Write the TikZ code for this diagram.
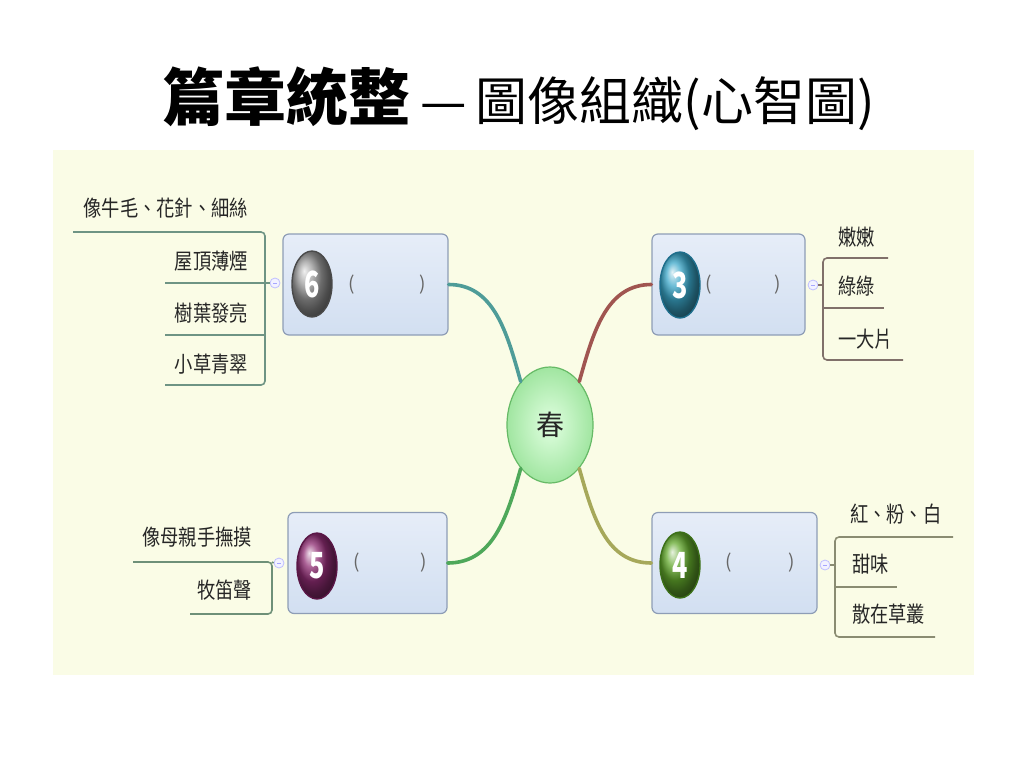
\documentclass[tikz,border=0pt]{standalone}
\usepackage{fontspec}
\setmainfont{Noto Sans CJK TC}
\usetikzlibrary{shapes.geometric}
\definecolor{panel}{HTML}{FAFCE6}
\definecolor{boxtop}{HTML}{E6EDF8}
\definecolor{boxbot}{HTML}{D2DFF1}
\definecolor{boxline}{HTML}{8E9DB6}
\definecolor{lab}{HTML}{262626}
\definecolor{brL}{HTML}{6E9484}
\definecolor{br3}{HTML}{80706A}
\definecolor{br4}{HTML}{8A8C72}
\definecolor{br5}{HTML}{6E9078}
\definecolor{cv6}{HTML}{4E9C98}
\definecolor{cv3}{HTML}{A05550}
\definecolor{cv5}{HTML}{4EA85A}
\definecolor{cv4}{HTML}{A6A85A}
\definecolor{bg6}{HTML}{9A9A9A}
\definecolor{bg3}{HTML}{3AA6C8}
\definecolor{bg5}{HTML}{8E2C72}
\definecolor{bg4}{HTML}{62A82C}
\definecolor{bd6}{HTML}{4A4A4A}
\definecolor{bd3}{HTML}{1E6E8C}
\definecolor{bd5}{HTML}{5A1646}
\definecolor{bd4}{HTML}{3C7018}
\tikzset{
  topicbox/.style={rectangle, rounded corners=6pt, draw=boxline, line width=1.2pt,
    top color=boxtop, bottom color=boxbot, minimum width=#1, minimum height=101pt, inner sep=0pt},
  badge/.style 2 args={ellipse, minimum width=40pt, minimum height=66pt, inner sep=0pt,
    draw=#2, line width=1.4pt, shading=ball, ball color=#1},
  badgenum/.style={text=white, font=\fontsize{36}{36}\selectfont\bfseries, xscale=0.7},
  paren/.style={text=black!60, font=\fontsize{19}{19}\selectfont, inner sep=0pt},
  leaf/.style={text=lab, font=\fontsize{22}{24}\selectfont, xscale=0.83, inner sep=0pt},
  knob/.style={circle, minimum size=10pt, inner sep=0pt, draw=blue!25, fill=blue!5, line width=0.8pt},
  branch/.style={line width=1.6pt, rounded corners=4pt},
  curve/.style={line width=3.6pt, line cap=round},
}
\begin{document}
\begin{tikzpicture}[x=1pt, y=-1pt]
\useasboundingbox (0,0) rectangle (1024,768);
\fill[white] (0,0) rectangle (1024,768);
\fill[panel] (53,150) rectangle (974,675);

% title
\node[anchor=base west, inner sep=0pt, font=\fontsize{62}{62}\selectfont\bfseries] (t1) at (162,120) {篇章統整};
\node[anchor=base west, inner sep=0pt, font=\fontsize{52}{52}\selectfont] (t2) at ([xshift=10pt]t1.base east) {—\,圖像組織(心智圖)};

% central topic
\node[ellipse, minimum width=86pt, minimum height=116pt, inner sep=0pt, draw=black!45!green!60, line width=1.2pt,
  inner color=green!12, outer color=green!30!white!90!black, text=black!85, font=\fontsize{28}{28}\selectfont] (c) at (550,425) {春};

% topic boxes
\node[topicbox=165pt] (b6) at (365.5,284.5) {};
\node[topicbox=153pt] (b3) at (728.5,284.5) {};
\node[topicbox=159pt] (b5) at (367.5,563) {};
\node[topicbox=165pt] (b4) at (734.5,563) {};

% curves
\draw[curve, cv6] (b6.east) .. controls +(45,0) and +(-14,-50) .. (c.124);
\draw[curve, cv3] (b3.west) .. controls +(-45,0) and +(14,-50) .. (c.56);
\draw[curve, cv5] (b5.east) .. controls +(45,0) and +(-14,50) .. (c.236);
\draw[curve, cv4] (b4.west) .. controls +(-45,0) and +(14,50) .. (c.304);

% badges
\node[badge={bg6}{bd6}] (g6) at (312,284) {};
\node[badgenum] (n6) at (g6) {6};
\node[badge={bg3}{bd3}] (g3) at (680,285) {};
\node[badgenum] (n3) at (g3) {3};
\node[badge={bg5}{bd5}] (g5) at (317,566) {};
\node[badgenum] (n5) at (g5) {5};
\node[badge={bg4}{bd4}] (g4) at (680,565) {};
\node[badgenum] (n4) at (g4) {4};

% parentheses
\node[paren] (p6a) at (352,285) {(};
\node[paren] (p6b) at (423,285) {)};
\node[paren] (p3a) at (709,285) {(};
\node[paren] (p3b) at (778,285) {)};
\node[paren] (p5a) at (357,563) {(};
\node[paren] (p5b) at (424,563) {)};
\node[paren] (p4a) at (729,563) {(};
\node[paren] (p4b) at (792,563) {)};

% knobs
\node[knob] (k6) at (275,283) {};
\node[knob] (k3) at (813,285) {};
\node[knob] (k5) at (279,563) {};
\node[knob] (k4) at (825,565) {};
\foreach \k in {k6,k3,k5,k4}{\draw[blue!35, line width=0.8pt] ([xshift=-2pt]\k.center) -- ([xshift=2pt]\k.center);}

% topic 6 branches
\coordinate (a61) at (73,232);
\coordinate (a64) at (165,385);
\draw[branch, brL] (a61) -- (265,232) -- (265,385) -- (a64);
\coordinate (a62) at (165,283);
\coordinate (a63) at (165,335);
\draw[branch, brL] (a62) -- (k6.west);
\draw[branch, brL] (a63) -- (265,335);

% topic 3 branches
\coordinate (a31) at (888,258);
\coordinate (a33) at (903,360);
\draw[branch, br3] (a31) -- (823,258) -- (823,360) -- (a33);
\coordinate (a32) at (884,308);
\draw[branch, br3] (823,308) -- (a32);
\draw[branch, br3] (k3.east) -- (823,285);

% topic 5 branches
\coordinate (a51) at (133,562);
\coordinate (a52) at (190,614);
\draw[branch, br5] (a51) -- (272,562) -- (272,614) -- (a52);
\draw[branch, br5] (272,562) -- (k5.west);

% topic 4 branches
\coordinate (a41) at (953,537);
\coordinate (a43) at (935,637);
\draw[branch, br4] (a41) -- (835,537) -- (835,637) -- (a43);
\coordinate (a42) at (897,587);
\draw[branch, br4] (835,587) -- (a42);
\draw[branch, br4] (k4.east) -- (835,565);

% leaf labels
\node[leaf, anchor=east] (l61) at (248,208) {像牛毛、花針、細絲};
\node[leaf, anchor=east] (l62) at (248,261) {屋頂薄煙};
\node[leaf, anchor=east] (l63) at (248,313) {樹葉發亮};
\node[leaf, anchor=east] (l64) at (248,364) {小草青翠};
\node[leaf, anchor=east] (l51) at (252,537) {像母親手撫摸};
\node[leaf, anchor=east] (l52) at (252,590) {牧笛聲};
\node[leaf, anchor=west] (l31) at (838,237) {嫩嫩};
\node[leaf, anchor=west] (l32) at (838,286) {綠綠};
\node[leaf, anchor=west] (l33) at (838,339) {一大片};
\node[leaf, anchor=west] (l41) at (850,514) {紅、粉、白};
\node[leaf, anchor=west] (l42) at (852,564) {甜味};
\node[leaf, anchor=west] (l43) at (852,614) {散在草叢};
\end{tikzpicture}
\end{document}
